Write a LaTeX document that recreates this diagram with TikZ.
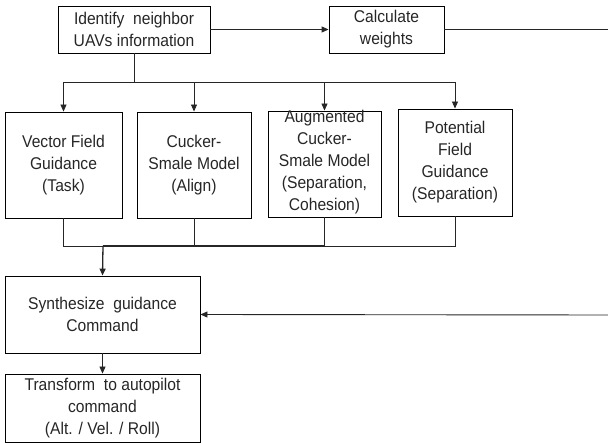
\documentclass[tikz,border=0pt]{standalone}
\usepackage{fontspec}
\setmainfont[FakeStretch=0.92]{Liberation Sans}
\usetikzlibrary{arrows.meta}
\begin{document}
\begin{tikzpicture}[x=1pt,y=-1pt,
  box/.style={draw=black, line width=0.9pt, inner sep=0pt, align=center,
    font=\fontsize{17pt}{22pt}\selectfont, text=black!85},
  txt/.style={inner sep=0pt, align=center, font=\fontsize{17pt}{22pt}\selectfont, text=black!85},
  conn/.style={draw=black!85, line width=0.9pt},
  arr/.style={conn, -{Triangle[length=7pt,width=6pt]}}]
\useasboundingbox (0,0) rectangle (608,443);
% top row
\node[box, minimum width=152pt, minimum height=47pt] (n1) at (134,29.5) {Identify\ \ neighbor\\UAVs information};
\node[box, minimum width=115pt, minimum height=47pt] (n2) at (386.5,29.5) {Calculate\\weights};
% middle row
\node[box, minimum width=117pt, minimum height=106pt] (a) at (63.5,165) {Vector Field\\Guidance\\(Task)};
\node[box, minimum width=114pt, minimum height=106pt] (b) at (194,165) {Cucker-\\Smale Model\\(Align)};
\node[box, minimum width=113pt, minimum height=106pt] (c) at (324.5,164) {};
\node[txt] (ct) at (324.5,162) {Augmented\\Cucker-\\Smale Model\\(Separation,\\Cohesion)};
\node[box, minimum width=114pt, minimum height=107pt] (d) at (455,162.5) {Potential\\Field\\Guidance\\(Separation)};
% bottom boxes
\node[box, minimum width=195pt, minimum height=77pt] (s) at (102.5,314.5) {Synthesize\ \ guidance\\Command};
\node[box, minimum width=195pt, minimum height=68pt] (t) at (102.5,408) {Transform\ \ to autopilot\\command\\(Alt. / Vel. / Roll)};
% coordinates
\coordinate (fork) at (134,82);
\coordinate (merge) at (103,246);
\coordinate (edgeT) at (608,29.5);
\coordinate (edgeB) at (608,315);
% connectors
\draw[arr] (n1) -- (n2);
\draw[conn] (n2) -- (edgeT);
\draw[conn] (n1) -- (fork);
\draw[arr] (fork) -| (a.north);
\draw[arr] (fork) -| (b.north);
\draw[arr] (fork) -| (c.north);
\draw[arr] (fork) -| (d.north);
\draw[conn] (a.south) |- (merge);
\draw[conn] (d.south) |- (merge);
\draw[conn] (b.south) |- (merge);
\draw[conn, line width=1.7pt] (c.south) |- (merge);
\draw[arr, line width=1.3pt] (merge) -- (s.north);
\draw[arr] (edgeB) -- (s.east);
\draw[arr] (s) -- (t);
\end{tikzpicture}
\end{document}
